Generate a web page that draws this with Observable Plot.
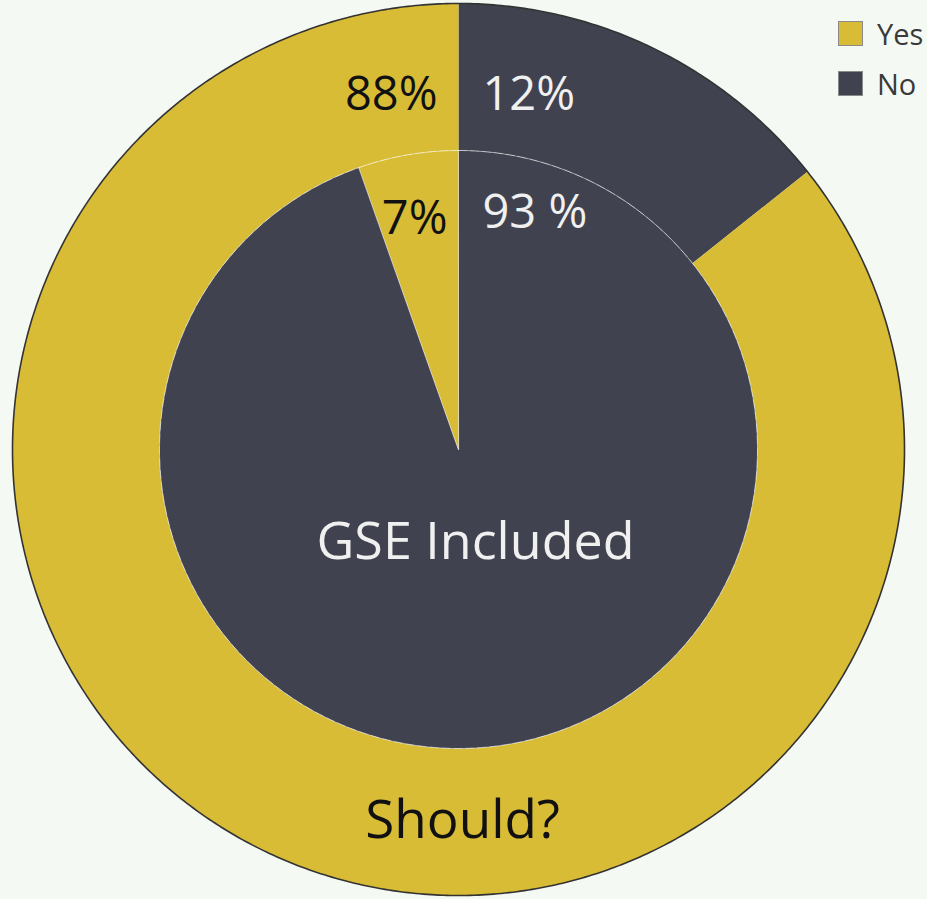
<!DOCTYPE html>
<html>
<head>
<meta charset="utf-8">
<script src="https://cdn.jsdelivr.net/npm/d3@7"></script>
<script src="https://cdn.jsdelivr.net/npm/@observablehq/plot@0.6"></script>
<style>
  html, body { margin: 0; padding: 0; background: #f5f9f4; overflow: hidden; }
  #wrap { position: relative; width: 927px; height: 899px; overflow: hidden; }
  #legend { position: absolute; left: 838px; top: 20px; font-family: "Open Sans", sans-serif; font-size: 29px; color: #3a3a3a; }
  .item { display: flex; align-items: center; height: 27px; margin-bottom: 23px; white-space: nowrap; }
  .sw { width: 23px; height: 23px; border: 1.5px solid #8a8a8a; box-sizing: content-box; margin-right: 14px; flex: none; }
</style>
</head>
<body>
<div id="wrap"><div id="legend"></div></div>
<script>
// ---- data ----
const categories = ["No", "Yes"];            // drawn clockwise from 12 o'clock in this order
const outerShares = [14.3, 85.7];             // "Should?" ring, slice sizes as drawn
const innerShares = [94.6, 5.4];              // "GSE Included" pie, slice sizes as drawn
const outerLabels = ["12%", "88%"];
const innerLabels = ["93 %", "7%"];
const ringNames = ["Should?", "GSE Included"];
const legendOrder = ["Yes", "No"];
const palette = ["#40434f", "#d9bc35"];       // No, Yes

// ---- geometry (px units) ----
const W = 927, H = 899, CX = 458, CY = 449;
const R_OUT = 446, R_IN = 299;

function arc(a0, a1, r) {
  const n = Math.max(2, Math.ceil(Math.abs(a1 - a0) / 0.5));
  const pts = [];
  for (let i = 0; i <= n; i++) {
    const a = (a0 + (a1 - a0) * i / n) * Math.PI / 180;
    pts.push({x: r * Math.sin(a), y: r * Math.cos(a)});
  }
  return pts;
}

const polys = [];
function addSlices(shares, ring, rOuter, rInner) {
  const total = d3.sum(shares);
  let acc = 0;
  shares.forEach((v, i) => {
    const a0 = acc / total * 360, a1 = (acc + v) / total * 360;
    acc += v;
    const id = ring + "-" + categories[i];
    let pts = arc(a0, a1, rOuter);
    if (rInner > 0) pts = pts.concat(arc(a1, a0, rInner));
    else pts.push({x: 0, y: 0});
    pts.forEach(p => polys.push({...p, id, cat: categories[i], ring}));
  });
}
addSlices(outerShares, "outer", R_OUT, R_IN);
addSlices(innerShares, "inner", R_IN, 0);

const outerCircle = arc(0, 360, R_OUT);
const innerCircle = arc(0, 360, R_IN);

// percentage labels beside the 12 o'clock boundary
const outerYes = [{text: outerLabels[1], cat: "Yes", y: R_OUT * 0.795}];
const outerNo  = [{text: outerLabels[0], cat: "No",  y: R_OUT * 0.795}];
const innerYes = [{text: innerLabels[1], cat: "Yes", y: R_IN * 0.77}];
const innerNo  = [{text: innerLabels[0], cat: "No",  y: R_IN * 0.79}];
const names = [
  {text: ringNames[1], x: 17, y: -93, cat: "No"},
  {text: ringNames[0], x: 4, y: -372, cat: "Yes"}
];

const font = {fontFamily: "Open Sans, sans-serif"};
const ink = d => d.cat === "Yes" ? "#111111" : "#f0f0f0";
const chart = Plot.plot({
  width: W, height: H,
  margin: 0,
  style: {background: "transparent", overflow: "visible"},
  x: {domain: [-CX, W - CX], axis: null},
  y: {domain: [-(H - CY), CY], axis: null},
  color: {domain: categories, range: palette},
  marks: [
    Plot.line(polys.filter(d => d.ring === "outer"), {x: "x", y: "y", z: "id", fill: "cat", stroke: "none", curve: "linear-closed"}),
    Plot.line(polys.filter(d => d.ring === "inner"), {x: "x", y: "y", z: "id", fill: "cat", stroke: "#ffffff", strokeOpacity: 0.4, strokeWidth: 1, curve: "linear-closed"}),
    Plot.line(innerCircle, {x: "x", y: "y", stroke: "#ffffff", strokeOpacity: 0.35, strokeWidth: 1, strokeDasharray: "8,4"}),
    Plot.line(outerCircle, {x: "x", y: "y", stroke: "#333333", strokeWidth: 1.6, curve: "linear-closed"}),
    Plot.text(outerYes, {x: 0, y: "y", text: "text", fill: ink, textAnchor: "end", dx: -21, fontSize: 47, ...font}),
    Plot.text(outerNo, {x: 0, y: "y", text: "text", fill: ink, textAnchor: "start", dx: 24, fontSize: 47, ...font}),
    Plot.text(innerYes, {x: 0, y: "y", text: "text", fill: ink, textAnchor: "end", dx: -11, fontSize: 47, ...font}),
    Plot.text(innerNo, {x: 0, y: "y", text: "text", fill: ink, textAnchor: "start", dx: 24, fontSize: 47, ...font}),
    Plot.text(names.slice(0, 1), {x: "x", y: "y", text: "text", fill: ink, fontSize: 52, ...font}),
    Plot.text(names.slice(1), {x: "x", y: "y", text: "text", fill: ink, fontSize: 53, ...font})
  ]
});
document.getElementById("wrap").prepend(chart);

// legend
const leg = document.getElementById("legend");
legendOrder.forEach(c => {
  const item = document.createElement("div");
  item.className = "item";
  const sw = document.createElement("span");
  sw.className = "sw";
  sw.style.background = palette[categories.indexOf(c)];
  const t = document.createElement("span");
  t.textContent = c;
  item.append(sw, t);
  leg.append(item);
});
</script>
</body>
</html>
